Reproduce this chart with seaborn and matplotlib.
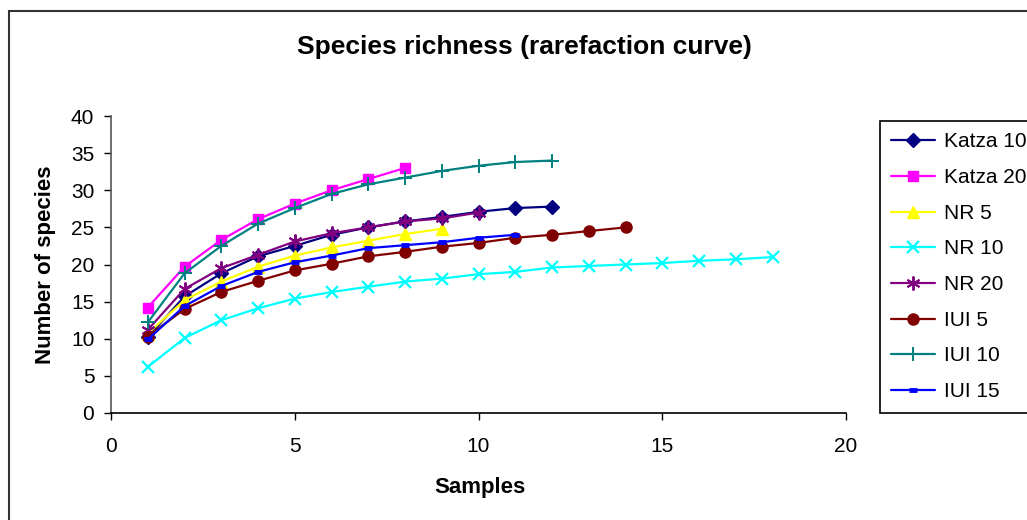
import matplotlib
matplotlib.use("Agg")
import matplotlib.pyplot as plt
from matplotlib.patches import Rectangle
import seaborn as sns
import pandas as pd

# ---- data ----
series_names = ["Katza 10", "Katza 20", "NR 5", "NR 10", "NR 20", "IUI 5", "IUI 10", "IUI 15"]

katza10 = [10.2, 15.7, 18.8, 21.1, 22.5, 24.0, 25.0, 25.8, 26.4, 27.1, 27.6, 27.8]
katza20 = [14.2, 19.7, 23.3, 26.1, 28.2, 30.0, 31.5, 33.0]
nr5 = [10.7, 15.2, 17.7, 19.7, 21.2, 22.3, 23.2, 24.1, 24.8]
nr10 = [6.2, 10.1, 12.5, 14.1, 15.4, 16.3, 17.0, 17.7, 18.1, 18.7, 19.0, 19.6,
        19.8, 20.0, 20.2, 20.5, 20.7, 21.0]
nr20 = [11.2, 16.7, 19.5, 21.3, 23.1, 24.2, 25.0, 25.8, 26.2, 27.0]
iui5 = [10.3, 14.0, 16.3, 17.8, 19.2, 20.1, 21.1, 21.7, 22.4, 22.9, 23.6, 24.0, 24.5, 25.0]
iui10 = [12.2, 18.8, 22.5, 25.5, 27.6, 29.5, 30.8, 31.7, 32.6, 33.3, 33.8, 34.0]
iui15 = [9.9, 14.4, 17.1, 19.0, 20.3, 21.2, 22.2, 22.6, 23.0, 23.6, 24.0]

values = [katza10, katza20, nr5, nr10, nr20, iui5, iui10, iui15]

x_ticks = [0, 5, 10, 15, 20]
y_ticks = [0, 5, 10, 15, 20, 25, 30, 35, 40]

title = "Species richness (rarefaction curve)"
x_label = "Samples"
y_label = "Number of species"

# ---- styles ----
colors = ["#000080", "#FF00FF", "#FFFF00", "#00FFFF", "#800080", "#800000", "#008080", "#0000FF"]
markers = ["D", "s", "^", "x", (6, 2, 0), "o", "+", "_"]
msizes = [7, 7, 8, 9, 10, 8, 10, 6]
mews = [1, 1, 1, 1.6, 1.4, 1, 1.4, 3.5]

sns.set_style("white")
plt.rcParams["font.family"] = ["Liberation Sans", "DejaVu Sans"]
plt.rcParams["text.color"] = "black"
plt.rcParams["xtick.color"] = "black"
plt.rcParams["ytick.color"] = "black"

fig = plt.figure(figsize=(10.27, 5.2), dpi=100)
ax = fig.add_axes([111 / 1027, 1 - 413 / 520, 735 / 1027, 297 / 520])

for name, vals, c, m, ms, mew in zip(series_names, values, colors, markers, msizes, mews):
    df = pd.DataFrame({"Samples": list(range(1, len(vals) + 1)), "Species": vals})
    sns.lineplot(data=df, x="Samples", y="Species", ax=ax, color=c, marker=m,
                 markersize=ms, markeredgewidth=mew, markeredgecolor=c,
                 markerfacecolor=c, linewidth=1.6, label=name, clip_on=False)

ax.set_xlim(0, 20)
ax.set_ylim(0, 40)
ax.set_xticks(x_ticks)
ax.set_yticks(y_ticks)
ax.set_xlabel("")
ax.set_ylabel("")

for s in ["top", "right"]:
    ax.spines[s].set_visible(False)
ax.spines["bottom"].set_color("black")
ax.spines["left"].set_color("#555555")
ax.spines["bottom"].set_linewidth(1.2)
ax.spines["left"].set_linewidth(1.2)
ax.tick_params(axis="x", direction="out", length=5, width=1, pad=12,
               labelsize=15, colors="black", labelcolor="black", bottom=True)
ax.tick_params(axis="y", direction="out", length=5, width=1, pad=7,
               labelsize=15, colors="black", labelcolor="black", left=True)
ax.grid(False)

fig.text(524 / 1027, 1 - 47 / 520, title, ha="center", va="center",
         fontsize=19, fontweight="bold", color="black")
fig.text(480 / 1027, 1 - 487 / 520, x_label, ha="center", va="center",
         fontsize=16, fontweight="bold", color="black")
fig.text(46 / 1027, 1 - 265 / 520, y_label, ha="center", va="center",
         rotation=90, fontsize=16, fontweight="bold", color="black")

leg = ax.legend(loc="upper left", bbox_to_anchor=(880 / 1027, 1 - 121 / 520),
                bbox_transform=fig.transFigure, frameon=True, fancybox=False,
                fontsize=15, labelspacing=0.8, handlelength=2.1,
                handletextpad=0.4, borderpad=0.55, borderaxespad=0)
leg.get_frame().set_edgecolor("black")
leg.get_frame().set_linewidth(1.2)
leg.get_frame().set_alpha(1)
for t in leg.get_texts():
    t.set_color("black")

fig.add_artist(Rectangle((9 / 1027, -0.5), 2.0, 0.5 + (1 - 11 / 520),
                         transform=fig.transFigure, fill=False,
                         edgecolor="#333333", linewidth=1.5, clip_on=False))

fig.savefig("out.png", dpi=100)
